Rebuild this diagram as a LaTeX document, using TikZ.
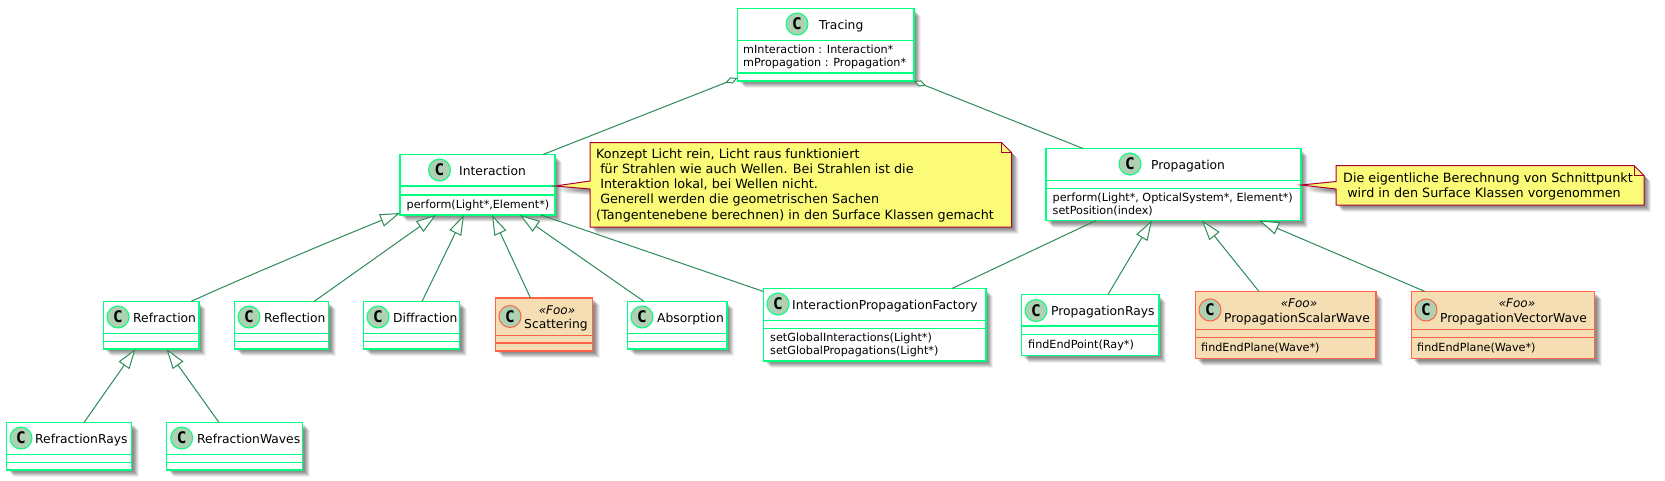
\documentclass[tikz,border=0pt]{standalone}
\usepackage{fontspec}
\setmainfont{DejaVu Sans}
\newfontfamily\circfont{DejaVu Sans Mono}
\usetikzlibrary{arrows.meta,shadows,calc}
\definecolor{springg}{HTML}{00FF7F}
\definecolor{seag}{HTML}{2E8B57}
\definecolor{tomatoc}{HTML}{FF6347}
\definecolor{wheatc}{HTML}{F5DEB3}
\definecolor{circfill}{HTML}{ADD1B2}
\definecolor{notefill}{HTML}{FBFB77}
\definecolor{noteline}{HTML}{A80036}
\tikzset{
  softshadow/.style={
    drop shadow={shadow xshift=2pt,shadow yshift=-2pt,fill=black,opacity=.10},
    drop shadow={shadow xshift=3pt,shadow yshift=-3pt,fill=black,opacity=.10},
    drop shadow={shadow xshift=4pt,shadow yshift=-4pt,fill=black,opacity=.10},
    drop shadow={shadow xshift=5pt,shadow yshift=-5pt,fill=black,opacity=.10},
    drop shadow={shadow xshift=6pt,shadow yshift=-6pt,fill=black,opacity=.08},
    drop shadow={shadow xshift=7pt,shadow yshift=-7pt,fill=black,opacity=.06}},
  plainclass/.style={draw=springg,fill=white},
  fooclass/.style={draw=tomatoc,fill=wheatc},
  classbox/.style={rectangle,line width=1.7pt,inner sep=0pt,outer sep=0pt,softshadow},
  classmark/.style={circle,fill=circfill,line width=1pt,inner sep=0pt,minimum size=22pt,
    font=\circfont\bfseries\fontsize{16}{16}\selectfont},
  cname/.style={anchor=base west,inner sep=0pt,font=\fontsize{12.3}{15}\selectfont},
  stereo/.style={anchor=base,inner sep=0pt,font=\fontsize{12}{14}\selectfont\itshape},
  member/.style={anchor=base west,inner sep=0pt,font=\fontsize{11.2}{13}\selectfont},
  notetext/.style={anchor=north west,inner sep=0pt,align=left,font=\fontsize{12.75}{15.2}\selectfont},
  noteframe/.style={rectangle,inner sep=0pt,outer sep=0pt,draw=none},
  noteshape/.style={draw=noteline,fill=notefill,line width=1pt,line join=miter,softshadow},
  noteedge/.style={draw=noteline,line width=1pt},
  conn/.style={draw=seag,line width=1pt},
  inherit/.style={conn,{Triangle[open,fill=white,length=20pt,width=13pt]}-},
  aggreg/.style={conn,{Diamond[open,fill=white,length=13pt,width=6.5pt]}-},
}
% name, style, L, T, R, B, divider 1, divider 2
\newcommand{\umlbox}[8]{%
  \pgfmathsetlengthmacro{\boxw}{(#5-#3)*1pt}%
  \pgfmathsetlengthmacro{\boxh}{(#6-#4)*1pt}%
  \pgfmathsetlengthmacro{\divA}{(#4-#7)*1pt}%
  \pgfmathsetlengthmacro{\divB}{(#4-#8)*1pt}%
  \node[classbox,#2,minimum width=\boxw,minimum height=\boxh,anchor=north west] (#1) at (#3,#4) {};
  \draw[#2,fill=none,line width=1.7pt] ([yshift=\divA]#1.north west) -- ([yshift=\divA]#1.north east);
  \draw[#2,fill=none,line width=1.7pt] ([yshift=\divB]#1.north west) -- ([yshift=\divB]#1.north east);
}
% name, border colour, x, y
\newcommand{\umlmark}[4]{\node[classmark,draw=#2] (#1) at (#3,#4) {C};}
\begin{document}
\begin{tikzpicture}[x=1pt,y=-1pt]
\useasboundingbox[fill=white] (0,0) rectangle (1665,480);

% notes
\node[noteframe,minimum width=421.5pt,minimum height=84.5pt,anchor=north west] (noteA) at (590,142.5) {};
\node[noteframe,minimum width=308pt,minimum height=39.5pt,anchor=north west] (noteB) at (1336,165.5) {};

% classes
\umlbox{tracing}{plainclass}{737.5}{8.5}{914}{81}{40.5}{73}
\umlmark{tracingC}{springg}{797}{24}
\node[cname] (tracingN) at (819,29) {Tracing};
\node[member] (tracingM1) at (743,53.5) {mInteraction : Interaction*};
\node[member] (tracingM2) at (743,66.5) {mPropagation : Propagation*};

\umlbox{interaction}{plainclass}{400}{154.5}{555}{215}{186}{195}
\umlmark{interactionC}{springg}{439.5}{170}
\node[cname] (interactionN) at (459,175) {Interaction};
\node[member] (interactionM1) at (406.5,208.5) {perform(Light*,Element*)};

\umlbox{propagation}{plainclass}{1046}{148.5}{1301}{220.5}{180.5}{188.5}
\umlmark{propagationC}{springg}{1130}{164}
\node[cname] (propagationN) at (1151,169) {Propagation};
\node[member] (propagationM1) at (1052.5,201.5) {perform(Light*, OpticalSystem*, Element*)};
\node[member] (propagationM2) at (1052.5,214.5) {setPosition(index)};

\umlbox{refraction}{plainclass}{103.5}{301.5}{199}{349}{333.5}{341.5}
\umlmark{refractionC}{springg}{118}{317}
\node[cname] (refractionN) at (133,322) {Refraction};

\umlbox{reflection}{plainclass}{234.5}{301.5}{328.5}{349}{333.5}{341.5}
\umlmark{reflectionC}{springg}{249}{317}
\node[cname] (reflectionN) at (264,322) {Reflection};

\umlbox{diffraction}{plainclass}{363.5}{301.5}{459.5}{349}{333.5}{341.5}
\umlmark{diffractionC}{springg}{378}{317}
\node[cname] (diffractionN) at (393,322) {Diffraction};

\umlbox{scattering}{fooclass}{495.5}{298}{592.5}{351}{335.5}{343}
\umlmark{scatteringC}{tomatoc}{510}{316.5}
\node[stereo] (scatteringS) at (557,314) {«Foo»};
\node[cname] (scatteringN) at (524,328) {Scattering};

\umlbox{absorption}{plainclass}{627.5}{301.5}{727}{349}{333.5}{341.5}
\umlmark{absorptionC}{springg}{642}{317}
\node[cname] (absorptionN) at (657,322) {Absorption};

\umlbox{factory}{plainclass}{763.5}{288.5}{986}{361}{320.5}{328.5}
\umlmark{factoryC}{springg}{778}{304}
\node[cname] (factoryN) at (792,309) {InteractionPropagationFactory};
\node[member] (factoryM1) at (770,341.5) {setGlobalInteractions(Light*)};
\node[member] (factoryM2) at (770,354.5) {setGlobalPropagations(Light*)};

\umlbox{proprays}{plainclass}{1021.5}{294.5}{1159}{355.5}{326}{334.5}
\umlmark{propraysC}{springg}{1036}{310.5}
\node[cname] (propraysN) at (1051,315.5) {PropagationRays};
\node[member] (propraysM1) at (1028,348.5) {findEndPoint(Ray*)};

\umlbox{propscalar}{fooclass}{1195.5}{291.5}{1376}{358.5}{329.5}{337.5}
\umlmark{propscalarC}{tomatoc}{1210}{310}
\node[stereo] (propscalarS) at (1299,307.5) {«Foo»};
\node[cname] (propscalarN) at (1224,322) {PropagationScalarWave};
\node[member] (propscalarM1) at (1201,351.5) {findEndPlane(Wave*)};

\umlbox{propvector}{fooclass}{1411.5}{291.5}{1594.5}{358.5}{329.5}{337.5}
\umlmark{propvectorC}{tomatoc}{1426}{310}
\node[stereo] (propvectorS) at (1517,307.5) {«Foo»};
\node[cname] (propvectorN) at (1440,322) {PropagationVectorWave};
\node[member] (propvectorM1) at (1417,351.5) {findEndPlane(Wave*)};

\umlbox{refrays}{plainclass}{6.5}{422.5}{131.5}{470}{454.5}{462.5}
\umlmark{refraysC}{springg}{21}{438}
\node[cname] (refraysN) at (35,443) {RefractionRays};

\umlbox{refwaves}{plainclass}{166.5}{422.5}{302.5}{470}{454.5}{462.5}
\umlmark{refwavesC}{springg}{181.7}{438}
\node[cname] (refwavesN) at (197,443) {RefractionWaves};

% note bodies with their wedges
\path[noteshape] (noteA.north west) -- ([xshift=-10pt]noteA.north east) -- ([yshift=-10pt]noteA.north east)
  -- (noteA.south east) -- (noteA.south west) -- ([yshift=38pt]noteA.south west)
  -- ([yshift=-1.25pt]interaction.east) -- ([yshift=46pt]noteA.south west) -- cycle;
\path[noteshape] (noteB.north west) -- ([xshift=-10pt]noteB.north east) -- ([yshift=-10pt]noteB.north east)
  -- (noteB.south east) -- (noteB.south west) -- ([yshift=16pt]noteB.south west)
  -- ([yshift=-0.5pt]propagation.east) -- ([yshift=23.5pt]noteB.south west) -- cycle;
\draw[noteedge] ([xshift=-10pt]noteA.north east) -- ([xshift=-10pt,yshift=-10pt]noteA.north east) -- ([yshift=-10pt]noteA.north east);
\draw[noteedge] ([xshift=-10pt]noteB.north east) -- ([xshift=-10pt,yshift=-10pt]noteB.north east) -- ([yshift=-10pt]noteB.north east);
\node[notetext] (noteAT) at (596,148.5) {Konzept Licht rein, Licht raus funktioniert\\\ für Strahlen wie auch Wellen. Bei Strahlen ist die\\\ Interaktion lokal, bei Wellen nicht.\\\ Generell werden die geometrischen Sachen\\(Tangentenebene berechnen) in den Surface Klassen gemacht};
\node[notetext] (noteBT) at (1343,172.5) {Die eigentliche Berechnung von Schnittpunkt\\\ wird in den Surface Klassen vorgenommen};

% connectors
\draw[aggreg] ([yshift=3pt]tracing.south west) -- ([xshift=143pt]interaction.north west);
\draw[aggreg] (tracing.south east) -- ([xshift=37pt]propagation.north west);
\draw[inherit] ([yshift=2pt]interaction.south west) .. controls +(-60,24) and +(34,-16) .. ([xshift=87.5pt]refraction.north west);
\draw[inherit] ([xshift=36pt]interaction.south west) -- ([xshift=79.5pt]reflection.north west);
\draw[inherit] ([xshift=64pt]interaction.south west) -- ([xshift=58.5pt]diffraction.north west);
\draw[inherit] ([xshift=92pt]interaction.south west) -- ([xshift=35pt]scattering.north west);
\draw[inherit] ([xshift=120pt]interaction.south west) -- ([xshift=16.5pt]absorption.north west);
\draw[conn] ([xshift=141pt]interaction.south west) -- ([yshift=-3pt]factory.north west);
\draw[conn] ([xshift=50pt]propagation.south west) -- ([xshift=188.5pt]factory.north west);
\draw[inherit] ([xshift=106pt]propagation.south west) -- ([xshift=86.5pt]proprays.north west);
\draw[inherit] ([xshift=156pt]propagation.south west) -- ([xshift=63.5pt]propscalar.north west);
\draw[inherit] ([xshift=213pt]propagation.south west) -- ([xshift=13.5pt]propvector.north west);
\draw[inherit] ([xshift=32pt]refraction.south west) -- ([xshift=77.5pt]refrays.north west);
\draw[inherit] ([xshift=63pt]refraction.south west) -- ([xshift=52.5pt]refwaves.north west);
\end{tikzpicture}
\end{document}
